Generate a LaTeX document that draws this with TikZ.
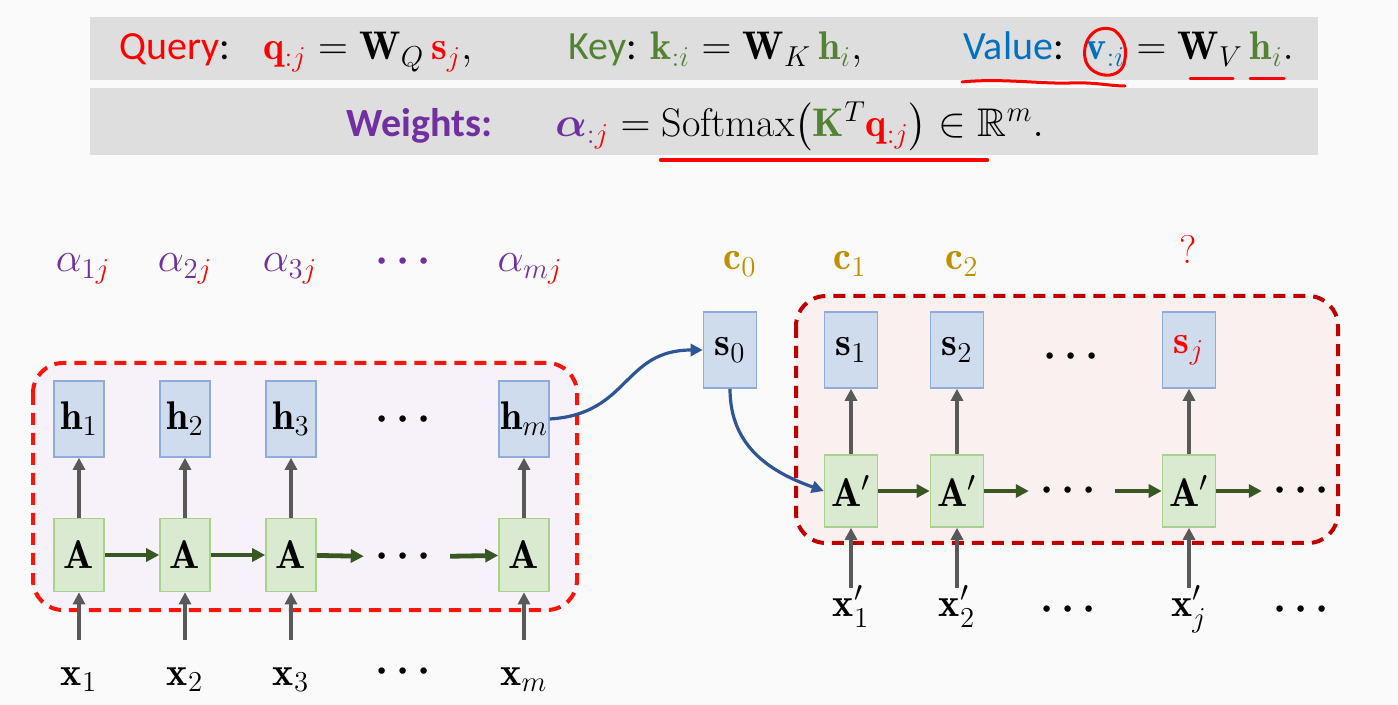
\documentclass[tikz,border=0pt]{standalone}
\usepackage{amsmath,amssymb,bm}
\usepackage{fontspec}
\newfontfamily\calfont{Carlito}
\usetikzlibrary{arrows.meta}

\definecolor{qred}{RGB}{255,0,0}
\definecolor{kgreen}{RGB}{84,130,53}
\definecolor{vblue}{RGB}{0,112,192}
\definecolor{wpurple}{RGB}{112,48,160}
\definecolor{cgold}{RGB}{191,144,0}
\definecolor{encred}{RGB}{250,20,10}
\definecolor{decred}{RGB}{192,0,0}
\definecolor{curveblue}{RGB}{47,85,151}
\definecolor{arrgray}{RGB}{89,89,89}
\definecolor{arrgreen}{RGB}{56,87,35}
\definecolor{hfill}{RGB}{207,220,238}
\definecolor{hdraw}{RGB}{143,170,220}
\definecolor{afill}{RGB}{217,234,208}
\definecolor{adraw}{RGB}{169,209,142}
\definecolor{bannergray}{RGB}{222,222,222}
\definecolor{encfill}{RGB}{247,242,250}
\definecolor{decfill}{RGB}{250,240,240}
\definecolor{pagebg}{RGB}{250,250,250}

\begin{document}
\begin{tikzpicture}[x=0.5pt,y=-0.5pt,
  banlab/.style={font=\calfont\fontsize{20}{24}\selectfont,inner sep=0pt,anchor=base west},
  banform/.style={font=\fontsize{20}{24}\selectfont,inner sep=0pt,anchor=base west},
  toplab/.style={font=\fontsize{20}{24}\selectfont,inner sep=0pt,anchor=base},
  hbox/.style={draw=hdraw,fill=hfill,line width=0.8pt,minimum width=25pt,minimum height=38pt,inner sep=0pt,font=\fontsize{20}{24}\selectfont},
  sbox/.style={hbox,minimum width=26.5pt},
  abox/.style={draw=adraw,fill=afill,line width=0.8pt,minimum width=25pt,minimum height=36.5pt,inner sep=0pt,font=\fontsize{20}{24}\selectfont},
  bbox/.style={abox,minimum width=26.5pt,minimum height=36pt},
  xlab/.style={font=\fontsize{20}{24}\selectfont,anchor=base,text height=9pt,inner xsep=0pt,inner ysep=13.5pt},
  xplab/.style={xlab,inner ysep=5.5pt},
  dotsn/.style={font=\fontsize{20}{24}\selectfont,inner xsep=5.5pt},
  uparr/.style={draw=arrgray,line width=2pt,-{Triangle[length=6pt,width=6pt]}},
  fwdarr/.style={draw=arrgreen,line width=2.4pt,-{Triangle[length=6.5pt,width=6.5pt]}},
  curvarr/.style={draw=curveblue,line width=1.6pt,-{Triangle[length=6pt,width=6pt]}},
  encbox/.style={draw=encred,fill=encfill,line width=2pt,dash pattern=on 6pt off 4pt,rounded corners=15pt},
  decbox/.style={encbox,draw=decred,fill=decfill},
  pen/.style={draw=red,line width=1.5pt,line cap=round}]

  % Page and banners
  \fill[pagebg] (0,0) rectangle (1398,705);
  \useasboundingbox (0,0) rectangle (1398,705);
  \fill[bannergray] (90,17) rectangle (1318,80);
  \fill[bannergray] (90,88) rectangle (1318,155);

  % Query / Key / Value
  \node[banlab] (qlab) at (119,60) {\textcolor{qred}{Query}:};
  \node[banform] (qform) at (263,60) {$\textcolor{qred}{\mathbf{q}_{:j}} = \mathbf{W}_{Q}\,\textcolor{qred}{\mathbf{s}_{j}},$};
  \node[banlab] (klab) at (568,60) {\textcolor{kgreen}{Key}:};
  \node[banform] (kform) at (650,60) {$\textcolor{kgreen}{\mathbf{k}_{:i}} = \mathbf{W}_{K}\,\textcolor{kgreen}{\mathbf{h}_{i}},$};
  \node[banlab] (vlab) at (963,60) {\textcolor{vblue}{Value}:};
  \node[banform] (vform) at (1085,60) {$\textcolor{vblue}{\mathbf{v}_{:i}} = \mathbf{W}_{V}\,\textcolor{kgreen}{\mathbf{h}_{i}}.$};

  % Weights
  \node[banlab,text=wpurple,font=\calfont\bfseries\fontsize{20}{24}\selectfont] (wlab) at (346,137) {Weights:};
  \node[banform] (wform) at (555,137) {$\textcolor{wpurple}{\boldsymbol{\alpha}_{:\textcolor{qred}{j}}} = \mathrm{Softmax}\big(\textcolor{kgreen}{\mathbf{K}}^{T}\textcolor{qred}{\mathbf{q}_{:j}}\big) \in \mathbb{R}^{m}.$};

  % Pen marks
  \draw[pen,line width=2.2pt] (661,160) -- (987,160);
  \draw[pen] (962,82) .. controls (1000,78) and (1040,84) .. (1070,83) .. controls (1095,82) and (1110,86) .. (1125,86);
  \draw[pen] (1114,30) .. controls (1095,23) and (1082,40) .. (1085,58) .. controls (1088,77) and (1118,82) .. (1124,64) .. controls (1128,48) and (1124,38) .. (1114,30);
  \draw[pen] (1190,79) -- (1233,79);
  \draw[pen] (1250,79) -- (1284,79);

  % Encoder and decoder frames
  \draw[encbox] (33,363) rectangle (577,610);
  \draw[decbox] (796,296) rectangle (1338,543);

  % Weights above encoder
  \foreach \x/\n in {83/1,185/2,290/3,530/m}
    \node[toplab,text=wpurple] (alpha\n) at (\x,272) {$\alpha_{\n\textcolor{qred}{j}}$};
  \node[dotsn,text=wpurple] (alphadots) at (407,262) {$\boldsymbol{\cdots}$};

  % Encoder
  \foreach \x/\n in {79/1,185/2,291/3,524/m} {
    \node[hbox] (h\n) at (\x,419) {$\mathbf{h}_{\n}$};
    \node[abox] (A\n) at (\x,555) {$\mathbf{A}$};
    \node[xlab] (x\n) at (\x,685) {$\mathbf{x}_{\n}$};
    \draw[uparr] (x\n) -- (A\n);
    \draw[uparr] (A\n) -- (h\n);
  }
  \node[dotsn] (hdots) at (407,420) {$\boldsymbol{\cdots}$};
  \node[dotsn] (Adots) at (407,557) {$\boldsymbol{\cdots}$};
  \node[dotsn] (xdots) at (407,672) {$\boldsymbol{\cdots}$};
  \draw[fwdarr] (A1) -- (A2);
  \draw[fwdarr] (A2) -- (A3);
  \draw[fwdarr] (A3) -- (Adots);
  \draw[fwdarr] (Adots) -- (Am);

  % Context vectors
  \foreach \x/\n in {740/0,850/1,962/2}
    \node[toplab,text=cgold] (c\n) at (\x,270) {$\mathbf{c}_{\n}$};
  \node[toplab,text=qred] (cq) at (1188,264) {?};

  % Decoder
  \node[sbox] (s0) at (730,350) {$\mathbf{s}_{0}$};
  \foreach \x/\n in {851/1,957/2} {
    \node[sbox] (s\n) at (\x,350) {$\mathbf{s}_{\n}$};
    \node[bbox] (B\n) at (\x,491) {$\mathbf{A}'$};
    \node[xplab] (xp\n) at (\x,617) {$\mathbf{x}'_{\n}$};
    \draw[uparr] (xp\n) -- (B\n);
    \draw[uparr] (B\n) -- (s\n);
  }
  \node[sbox] (sj) at (1189,350) {$\textcolor{qred}{\mathbf{s}_{j}}$};
  \node[bbox] (Bj) at (1189,491) {$\mathbf{A}'$};
  \node[xplab] (xpj) at (1189,617) {$\mathbf{x}'_{j}$};
  \draw[uparr] (xpj) -- (Bj);
  \draw[uparr] (Bj) -- (sj);
  \node[dotsn] (sdots) at (1075,357) {$\boldsymbol{\cdots}$};
  \node[dotsn] (Bdots) at (1072,491) {$\boldsymbol{\cdots}$};
  \node[dotsn] (Bend) at (1305,491) {$\boldsymbol{\cdots}$};
  \node[dotsn] (xpdots) at (1072,610) {$\boldsymbol{\cdots}$};
  \node[dotsn] (xpend) at (1305,610) {$\boldsymbol{\cdots}$};
  \draw[fwdarr] (B1) -- (B2);
  \draw[fwdarr] (B2) -- (Bdots);
  \draw[fwdarr] (Bdots) -- (Bj);
  \draw[fwdarr] (Bj) -- (Bend);

  % Hand-over from encoder to decoder
  \draw[curvarr] (hm.east) .. controls +(80,-5) and +(-80,0) .. (s0.west);
  \draw[curvarr] (s0.south) .. controls +(0,60) and +(-50,-18) .. (B1.west);
\end{tikzpicture}
\end{document}
